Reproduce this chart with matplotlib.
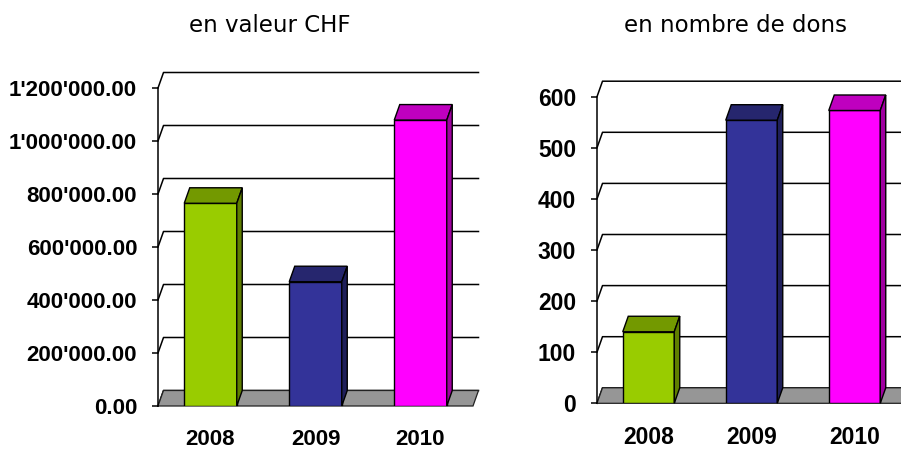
import numpy as np
import matplotlib.pyplot as plt
from matplotlib.patches import Polygon
from matplotlib.ticker import FuncFormatter, MultipleLocator

# data
annees = ['2008', '2009', '2010']
valeur_chf = [765000, 469000, 1079000]
nombre_dons = [140, 554, 573]

couleurs = ['#99cc00', '#333399', '#ff00ff']
dessus = ['#739900', '#26266e', '#bf00bf']
cotes = ['#5f7f00', '#1f1f5a', '#a000a0']
sol = '#969696'


def swiss(v, pos):
    return '{:,.2f}'.format(v).replace(',', "'")


def chart3d(ax, values, ymax, step, fmt, tick_size, year_size, depth=(5.5, 15.5)):
    x = np.arange(len(values))
    ax.set_xlim(-0.5, 2.5)
    ax.set_ylim(0, ymax)
    # depth offset in data units, from pixels
    p0 = ax.transData.transform((0, 0))
    ddx, ddy = ax.transData.inverted().transform(p0 + np.array(depth))

    for s in ['top', 'right', 'bottom']:
        ax.spines[s].set_visible(False)
    ax.spines['left'].set_linewidth(1.1)

    # back wall gridlines with the little diagonal on the side wall
    for y in np.arange(0, ymax + step / 2, step):
        ax.plot([-0.5, -0.5 + ddx, 2.5 + ddx], [y, y + ddy, y + ddy],
                color='black', lw=1.1, zorder=1, clip_on=False)

    # floor
    ax.add_patch(Polygon([(-0.5, 0), (2.5, 0), (2.5 + ddx, ddy), (-0.5 + ddx, ddy)],
                         facecolor=sol, edgecolor='#222222', lw=0.9, zorder=1.5,
                         clip_on=False))

    w = 0.5
    ax.bar(x, values, width=w, color=couleurs, edgecolor='black', lw=1.0, zorder=3)
    for i, v in enumerate(values):
        x0, x1 = x[i] - w / 2, x[i] + w / 2
        ax.add_patch(Polygon([(x0, v), (x1, v), (x1 + ddx, v + ddy), (x0 + ddx, v + ddy)],
                             facecolor=dessus[i], edgecolor='black', lw=1.0,
                             zorder=3, clip_on=False))
        ax.add_patch(Polygon([(x1, 0), (x1 + ddx, ddy), (x1 + ddx, v + ddy), (x1, v)],
                             facecolor=cotes[i], edgecolor='black', lw=1.0,
                             zorder=3, clip_on=False))

    ax.yaxis.set_major_locator(MultipleLocator(step))
    ax.yaxis.set_major_formatter(FuncFormatter(fmt))
    ax.tick_params(axis='y', length=4.5, width=1.1, pad=10.5)
    for t in ax.get_yticklabels():
        t.set_fontfamily('Liberation Sans')
        t.set_fontweight('bold')
        t.set_fontsize(tick_size)
    ax.set_xticks(x)
    ax.set_xticklabels(annees, fontfamily='Liberation Sans', fontweight='bold',
                       fontsize=year_size)
    ax.tick_params(axis='x', length=0, pad=16.5)


fig = plt.figure(figsize=(9.01, 4.5), dpi=100)

ax1 = fig.add_axes([158 / 901, 44 / 450, 315 / 901, 318 / 450])
chart3d(ax1, valeur_chf, 1200000, 200000, swiss, 16, 16)

ax2 = fig.add_axes([597 / 901, 46.7 / 450, 309 / 901, 306.6 / 450])
chart3d(ax2, nombre_dons, 600, 100, lambda v, p: '%d' % v, 16.5, 16.5)

fig.text(269.5 / 901, 1 - 25.5 / 450, 'en valeur CHF', ha='center', va='center',
         fontsize=16.5, fontfamily='DejaVu Sans')
fig.text(736 / 901, 1 - 25.5 / 450, 'en nombre de dons', ha='center', va='center',
         fontsize=16.5, fontfamily='DejaVu Sans')

fig.savefig('out.png', dpi=100)
